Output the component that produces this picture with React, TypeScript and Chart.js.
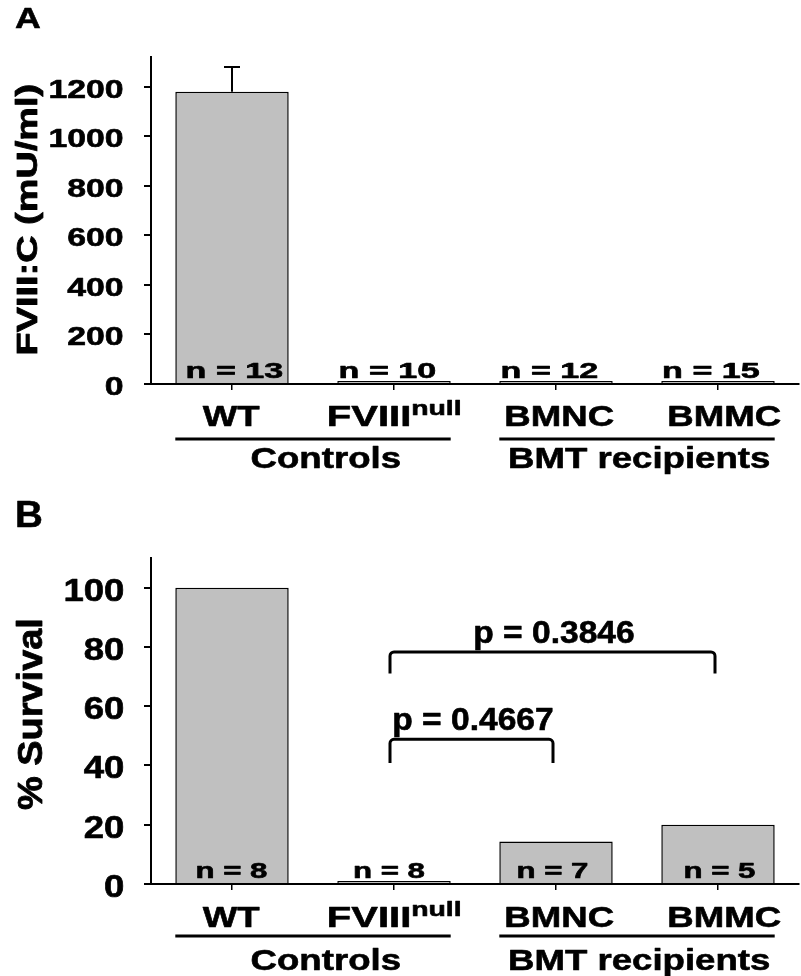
import React, { useEffect, useRef } from 'react';
import { Chart, registerables } from 'chart.js';

Chart.register(...registerables);

// ---------- data ----------
const CATEGORIES = ['WT', 'FVIII', 'BMNC', 'BMMC'];
const CATEGORY_SUPERSCRIPTS = ['', 'null', '', ''];
const GROUP_LABELS = ['Controls', 'BMT recipients'];
const GROUP_RANGES = [[0, 1], [2, 3]];

const FVIII_VALUES = [1180, 12, 12, 12];
const FVIII_ERRORS = [100, 0, 0, 0];
const FVIII_N = [13, 10, 12, 15];
const FVIII_TICKS = [0, 200, 400, 600, 800, 1000, 1200];
const FVIII_MAX = 1320;

const SURVIVAL_VALUES = [100, 1, 14.3, 20];
const SURVIVAL_N = [8, 8, 7, 5];
const SURVIVAL_TICKS = [0, 20, 40, 60, 80, 100];
const SURVIVAL_MAX = 110;

const PVALUE_LABELS = ['p = 0.3846', 'p = 0.4667'];
const PVALUE_PAIRS = [[1, 3], [1, 2]];
const PVALUE_LEVELS = [78.3, 48.8];
const PVALUE_DROPS = [71, 40.8];

// ---------- styles ----------
const FONT = '"Liberation Sans", Arial, Helvetica, sans-serif';
const BAR_FILL = '#c0c0c0';

type TextOpts = { align?: 'left' | 'center' | 'right'; sx?: number; width?: number; weight?: number };

function drawText(ctx: CanvasRenderingContext2D, text: string, x: number, y: number, size: number, o: TextOpts = {}) {
  ctx.save();
  ctx.font = `bold ${size}px ${FONT}`;
  ctx.textAlign = 'left';
  ctx.textBaseline = 'alphabetic';
  ctx.fillStyle = '#000';
  ctx.strokeStyle = '#000';
  ctx.lineJoin = 'round';
  const m = ctx.measureText(text);
  const inkW = m.actualBoundingBoxLeft + m.actualBoundingBoxRight;
  const s = o.width ? o.width / inkW : (o.sx ?? 1);
  const w = inkW * s;
  const align = o.align ?? 'center';
  const left = align === 'left' ? x : align === 'right' ? x - w : x - w / 2;
  ctx.translate(left, y);
  ctx.scale(s, 1);
  ctx.fillText(text, m.actualBoundingBoxLeft, 0);
  const wt = o.weight ?? 0.6;
  if (wt > 0) {
    ctx.lineWidth = wt;
    ctx.strokeText(text, m.actualBoundingBoxLeft, 0);
  }
  ctx.restore();
  return left + w;
}

function drawRotated(ctx: CanvasRenderingContext2D, text: string, xBase: number, yCenter: number, size: number, length: number) {
  ctx.save();
  ctx.translate(xBase, yCenter);
  ctx.rotate(-Math.PI / 2);
  drawText(ctx, text, 0, 0, size, { align: 'center', width: length, weight: 0.8 });
  ctx.restore();
}

type PanelCfg = {
  letter: string; letterX: number; letterY: number; letterSize: number;
  title: string; titleX: number; titleY: number; titleSize: number; titleLen: number;
  tickRight: number; tickDy: number; tickSize: number; tickSx: number;
  catDy: number; supDy: number; lineDy: number; groupDy: number;
  nLabels: number[]; nSx: number; nDx: number[];
  errors?: number[];
  brackets?: boolean;
};

const LABEL_DX = [-1, 1, 4, 7];
const GROUP_DX = [13, 3];

function makePlugin(cfg: PanelCfg, values: number[]) {
  return {
    id: 'panelDecor' + cfg.letter,
    afterDraw(chart: any) {
      const ctx: CanvasRenderingContext2D = chart.ctx;
      const xs = chart.scales.x;
      const ys = chart.scales.y;
      const zero = chart.chartArea.bottom;
      const meta = chart.getDatasetMeta(0);

      // y tick labels
      ys.ticks.forEach((t: any) => {
        const y = ys.getPixelForValue(t.value);
        drawText(ctx, String(t.value), cfg.tickRight, y + cfg.tickDy, cfg.tickSize, { align: 'right', sx: cfg.tickSx });
      });

      // error bars
      if (cfg.errors) {
        ctx.save();
        ctx.strokeStyle = '#000';
        ctx.lineWidth = 2;
        cfg.errors.forEach((e, i) => {
          if (!e) return;
          const x = meta.data[i].x;
          const y0 = ys.getPixelForValue(values[i]);
          const y1 = ys.getPixelForValue(values[i] + e);
          ctx.beginPath();
          ctx.moveTo(x, y0);
          ctx.lineTo(x, y1);
          ctx.moveTo(x - 8, y1);
          ctx.lineTo(x + 8, y1);
          ctx.stroke();
        });
        ctx.restore();
      }

      // n labels
      cfg.nLabels.forEach((n, i) => {
        const x = xs.getPixelForValue(i) + cfg.nDx[i];
        drawText(ctx, `n = ${n}`, x, zero - 6, 22, { sx: cfg.nSx });
      });

      // category labels
      CATEGORIES.forEach((c, i) => {
        const cx = xs.getPixelForValue(i) + LABEL_DX[i];
        const sup = CATEGORY_SUPERSCRIPTS[i];
        if (sup) {
          const mainW = 80, supW = 48, gap = 3;
          const left = cx - (mainW + gap + supW) / 2;
          const r = drawText(ctx, c, left, zero + cfg.catDy, 30, { align: 'left', width: mainW });
          drawText(ctx, sup, r + gap, zero + cfg.supDy, 21, { align: 'left', width: supW });
        } else {
          drawText(ctx, c, cx, zero + cfg.catDy, 30, { sx: 1.22 });
        }
      });

      // group underlines and labels
      ctx.save();
      ctx.strokeStyle = '#000';
      ctx.lineWidth = 3;
      GROUP_RANGES.forEach(([a, b], gi) => {
        const ba = meta.data[a];
        const bb = meta.data[b];
        const x0 = ba.x - ba.width / 2;
        const x1 = bb.x + bb.width / 2;
        ctx.beginPath();
        ctx.moveTo(x0, zero + cfg.lineDy);
        ctx.lineTo(x1, zero + cfg.lineDy);
        ctx.stroke();
        drawText(ctx, GROUP_LABELS[gi], (x0 + x1) / 2 + GROUP_DX[gi], zero + cfg.groupDy, 30, { sx: 1.22 });
      });
      ctx.restore();

      // brackets
      if (cfg.brackets) {
        ctx.save();
        ctx.strokeStyle = '#000';
        ctx.lineWidth = 3;
        PVALUE_PAIRS.forEach(([a, b], k) => {
          const l = xs.getPixelForValue(a) - 4;
          const r = xs.getPixelForValue(b) - 3;
          const top = ys.getPixelForValue(PVALUE_LEVELS[k]);
          const bot = ys.getPixelForValue(PVALUE_DROPS[k]);
          const rad = 4;
          ctx.beginPath();
          ctx.moveTo(l, bot);
          ctx.lineTo(l, top + rad);
          ctx.arcTo(l, top, l + rad, top, rad);
          ctx.lineTo(r - rad, top);
          ctx.arcTo(r, top, r, top + rad, rad);
          ctx.lineTo(r, bot);
          ctx.stroke();
          drawText(ctx, PVALUE_LABELS[k], (l + r) / 2 + 2, top - 9, 30.5, { sx: 1.1 });
        });
        ctx.restore();
      }

      // panel letter and axis title
      drawText(ctx, cfg.letter, cfg.letterX, cfg.letterY, cfg.letterSize, { align: 'left', width: 25 });
      drawRotated(ctx, cfg.title, cfg.titleX, cfg.titleY, cfg.titleSize, cfg.titleLen);
    },
  };
}

function makeChart(canvas: HTMLCanvasElement, values: number[], ticks: number[], max: number,
  padTop: number, xHeight: number, cfg: PanelCfg) {
  return new Chart(canvas, {
    type: 'bar',
    data: {
      labels: CATEGORIES,
      datasets: [{
        data: values,
        backgroundColor: BAR_FILL,
        borderColor: '#000',
        borderWidth: 1.5,
        categoryPercentage: 1,
        barPercentage: 0.7,
      }],
    },
    options: {
      animation: false,
      responsive: true,
      maintainAspectRatio: false,
      events: [],
      layout: { padding: { top: padTop, left: 0, right: 2, bottom: 0 } },
      plugins: { legend: { display: false }, tooltip: { enabled: false } },
      scales: {
        x: {
          grid: { display: true, drawOnChartArea: false, drawTicks: true, tickLength: 6, color: '#000', lineWidth: 1.5, offset: false },
          border: { display: true, color: '#000', width: 2 },
          ticks: { color: 'rgba(0,0,0,0)' },
          afterFit: (s: any) => { s.height = xHeight; },
        },
        y: {
          min: 0,
          max,
          grid: { display: true, drawOnChartArea: false, drawTicks: true, tickLength: 7, color: '#000', lineWidth: 2 },
          border: { display: true, color: '#000', width: 2 },
          ticks: { color: 'rgba(0,0,0,0)', includeBounds: false },
          afterBuildTicks: (s: any) => { s.ticks = ticks.map((v) => ({ value: v })); },
          afterFit: (s: any) => { s.width = 151; },
        },
      },
    },
    plugins: [makePlugin(cfg, values)],
  } as any);
}

export default function App() {
  const refA = useRef<HTMLCanvasElement>(null);
  const refB = useRef<HTMLCanvasElement>(null);

  useEffect(() => {
    const cfgA: PanelCfg = {
      letter: 'A', letterX: 15, letterY: 28, letterSize: 30,
      title: 'FVIII:C (mU/ml)', titleX: 37, titleY: 219, titleSize: 30, titleLen: 268,
      tickRight: 123, tickDy: 11, tickSize: 26, tickSx: 1.3,
      catDy: 42, supDy: 31, lineDy: 55, groupDy: 84,
      nLabels: FVIII_N, nSx: 1.55, nDx: [3, -6, -6, -6.5],
      errors: FVIII_ERRORS,
    };
    const cfgB: PanelCfg = {
      letter: 'B', letterX: 17, letterY: 39, letterSize: 37,
      title: '% Survival', titleX: 42, titleY: 227, titleSize: 35, titleLen: 190,
      tickRight: 123, tickDy: 13, tickSize: 31, tickSx: 1.18,
      catDy: 43, supDy: 32, lineDy: 52, groupDy: 86,
      nLabels: SURVIVAL_N, nSx: 1.42, nDx: [0, -4.5, -3, 2],
      brackets: true,
    };
    const a = makeChart(refA.current!, FVIII_VALUES, FVIII_TICKS, FVIII_MAX, 57, 104, cfgA);
    const b = makeChart(refB.current!, SURVIVAL_VALUES, SURVIVAL_TICKS, SURVIVAL_MAX, 70, 92, cfgB);
    return () => { a.destroy(); b.destroy(); };
  }, []);

  return (
    <div style={{ position: 'absolute', left: 0, top: 0, width: 801, height: 976, background: '#fff' }}>
      <div style={{ position: 'absolute', left: 0, top: 0, width: 801, height: 488 }}>
        <canvas ref={refA} />
      </div>
      <div style={{ position: 'absolute', left: 0, top: 488, width: 801, height: 488 }}>
        <canvas ref={refB} />
      </div>
    </div>
  );
}
